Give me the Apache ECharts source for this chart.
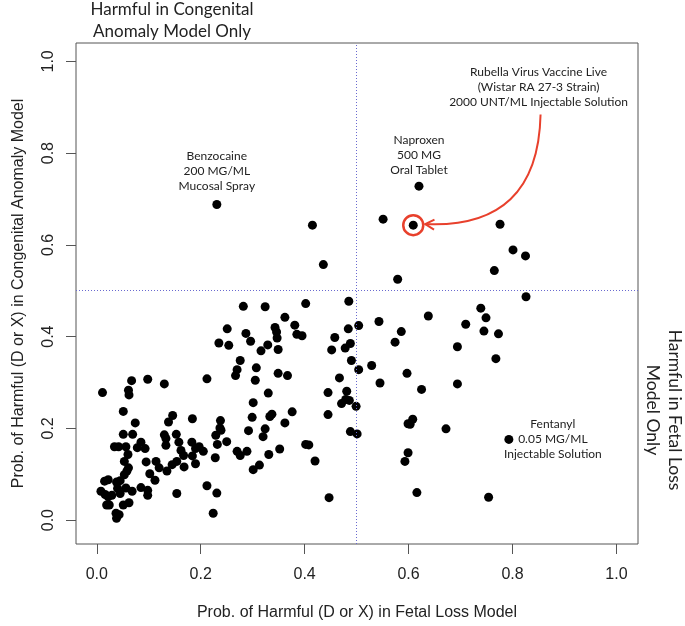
<!DOCTYPE html>
<html><head><meta charset="utf-8">
<script src="https://cdn.jsdelivr.net/npm/echarts@6/dist/echarts.min.js"></script>
<style>html,body{margin:0;padding:0;background:#fff}#c{width:685px;height:626px}</style>
</head><body><div id="c"></div>
<script>
// Prob. of Harmful (D or X) in Fetal Loss Model
const fetalLoss = [
0.011,0.067,0.061,0.062,0.098,0.130,0.212,0.051,0.074,0.146,0.138,0.184,0.051,0.069,0.130,0.133,0.133,0.153,0.085,0.078,
0.093,0.034,0.042,0.056,0.060,0.053,0.061,0.058,0.053,0.095,0.114,0.102,0.112,0.158,0.162,0.167,0.183,0.190,0.197,0.205,
0.184,0.190,0.168,0.154,0.145,0.135,0.120,0.015,0.022,0.038,0.045,0.040,0.056,0.045,0.068,0.008,0.016,0.022,0.029,0.019,
0.024,0.051,0.062,0.085,0.098,0.098,0.037,0.043,0.038,0.154,0.212,0.224,
0.282,0.324,0.402,0.485,0.362,0.251,0.287,0.296,0.235,0.254,0.343,0.346,0.347,0.381,0.385,0.395,0.316,0.329,0.349,0.276,
0.270,0.267,0.307,0.305,0.349,0.367,0.330,0.301,0.299,0.333,0.337,0.376,0.362,0.292,0.324,0.320,0.238,0.237,0.239,0.229,
0.232,0.250,0.228,0.270,0.276,0.289,0.301,0.313,0.331,0.352,0.402,0.408,0.420,0.231,0.447,0.445,0.445,0.458,0.452,0.478,
0.484,0.488,0.490,0.504,0.467,0.481,0.479,0.471,0.499,0.488,0.501,0.504,
0.579,0.765,0.739,0.749,0.745,0.773,0.768,0.638,0.710,0.543,0.586,0.574,0.694,0.694,0.529,0.597,0.545,0.625,0.486,0.608,
0.599,0.603,0.672,0.599,0.593,0.616,0.754,
0.776,0.801,0.825,0.826,0.793,
0.231,0.415,0.436,0.551,0.609,0.620
];
// Prob. of Harmful (D or X) in Congenital Anomaly Model
const congenital = [
0.278,0.304,0.283,0.273,0.307,0.297,0.308,0.237,0.212,0.228,0.214,0.221,0.187,0.187,0.186,0.178,0.163,0.187,0.170,0.158,
0.156,0.160,0.160,0.160,0.143,0.128,0.114,0.107,0.099,0.127,0.128,0.101,0.087,0.170,0.152,0.141,0.170,0.156,0.160,0.150,
0.140,0.123,0.116,0.128,0.121,0.107,0.114,0.085,0.088,0.083,0.086,0.069,0.070,0.058,0.063,0.063,0.056,0.051,0.054,0.033,
0.033,0.033,0.038,0.071,0.065,0.054,0.015,0.012,0.004,0.058,0.075,0.015,
0.466,0.465,0.472,0.477,0.442,0.417,0.407,0.390,0.386,0.381,0.420,0.410,0.397,0.425,0.405,0.402,0.369,0.382,0.372,0.348,
0.328,0.315,0.332,0.305,0.320,0.315,0.277,0.256,0.224,0.226,0.231,0.236,0.212,0.195,0.199,0.182,0.217,0.201,0.196,0.185,
0.165,0.171,0.136,0.150,0.141,0.150,0.110,0.120,0.143,0.155,0.165,0.164,0.129,0.059,0.049,0.278,0.230,0.398,0.371,0.375,
0.417,0.385,0.348,0.424,0.310,0.281,0.263,0.254,0.248,0.193,0.188,0.328,
0.525,0.544,0.462,0.441,0.412,0.406,0.352,0.445,0.427,0.433,0.411,0.388,0.378,0.297,0.337,0.320,0.299,0.285,0.261,0.220,
0.210,0.209,0.199,0.147,0.128,0.060,0.050,
0.645,0.589,0.576,0.487,0.176,
0.688,0.643,0.557,0.656,0.643,0.728
];
const xTicks = [0, 0.2, 0.4, 0.6, 0.8, 1.0];
const yTicks = [0, 0.2, 0.4, 0.6, 0.8, 1.0];
const threshold = 0.5;
const rubella = [0.609, 0.643];
const benzocaine = [0.231, 0.688];
const naproxen = [0.620, 0.728];
const fentanyl = [0.793, 0.176];
const arrowStart = [0.854, 0.884];
const arrowCtrl = [0.849, 0.634];

const xTitle = 'Prob. of Harmful (D or X) in Fetal Loss Model';
const yTitle = 'Prob. of Harmful (D or X) in Congenital Anomaly Model';
const topNote = 'Harmful in Congenital\nAnomaly Model Only';
const rightNote = 'Harmful in Fetal Loss\nModel Only';
const benzText = 'Benzocaine\n200 MG/ML\nMucosal Spray';
const naproxText = 'Naproxen\n500 MG\nOral Tablet';
const rubellaText = 'Rubella Virus Vaccine Live\n(Wistar RA 27-3 Strain)\n2000 UNT/ML Injectable Solution';
const fentText = 'Fentanyl\n0.05 MG/ML\nInjectable Solution';

const AX = 'Liberation Sans, Arial, sans-serif';
const NOTE = 'Lato, "Open Sans", sans-serif';
const RED = '#e8402c';

const chart = echarts.init(document.getElementById('c'), null, {renderer: 'canvas'});
chart.setOption({
  animation: false,
  backgroundColor: '#fff',
  grid: {left: 76, right: 47, top: 43, bottom: 80, show: true, borderColor: '#555', borderWidth: 1},
  xAxis: {
    type: 'value', min: -0.04, max: 1.0415,
    axisLine: {show: false, onZero: false},
    splitLine: {show: false},
    axisTick: {show: true, customValues: xTicks, length: 10, lineStyle: {color: '#555'}},
    axisLabel: {customValues: xTicks, formatter: v => v.toFixed(1), margin: 23, fontSize: 16, color: '#222', fontFamily: AX},
    name: xTitle, nameLocation: 'middle', nameGap: 61,
    nameTextStyle: {fontSize: 16, color: '#222', fontFamily: AX}
  },
  yAxis: {
    type: 'value', min: -0.052, max: 1.04,
    axisLine: {show: false, onZero: false},
    splitLine: {show: false},
    axisTick: {show: true, customValues: yTicks, length: 10, lineStyle: {color: '#555'}},
    axisLabel: {customValues: yTicks, formatter: v => v.toFixed(1), rotate: 90, margin: 19, fontSize: 16, color: '#222', fontFamily: AX},
    name: yTitle, nameLocation: 'middle', nameGap: 49,
    nameTextStyle: {fontSize: 16, color: '#222', fontFamily: AX}
  },
  series: [
    {
      type: 'scatter', symbol: 'circle', symbolSize: 9,
      itemStyle: {color: '#000', opacity: 1},
      data: fetalLoss.map((x, i) => [x, congenital[i]]),
      silent: true,
      markLine: {
        silent: true, symbol: ['none', 'none'], label: {show: false},
        lineStyle: {type: [1, 2], color: '#6a6ad0', width: 1, opacity: 1},
        data: [{xAxis: threshold}, {yAxis: threshold}]
      }
    },
    {
      type: 'scatter', symbol: 'circle', symbolSize: 20, silent: true,
      itemStyle: {color: 'rgba(0,0,0,0)', borderColor: RED, borderWidth: 2.5, opacity: 1},
      data: [rubella]
    }
  ]
});

function px(p) { return chart.convertToPixel({gridIndex: 0}, p); }
const pR = px(rubella), pB = px(benzocaine), pN = px(naproxen), pF = px(fentanyl);
const pS = px(arrowStart), pC = px(arrowCtrl);
const tip = [pR[0] + 12, pR[1] - 1];
const dx = tip[0] - pC[0], dy = tip[1] - pC[1];
const len = Math.hypot(dx, dy);
const ux = dx / len, uy = dy / len;
const wing = 9, half = 5;
const w1 = [tip[0] - wing * ux - half * uy, tip[1] - wing * uy + half * ux];
const w2 = [tip[0] - wing * ux + half * uy, tip[1] - wing * uy - half * ux];

function note(text, x, y, align, opts) {
  return Object.assign({
    type: 'text', x: x, y: y, silent: true,
    style: {text: text, fill: '#222', fontSize: 12, fontFamily: NOTE, lineHeight: 15,
            align: align || 'center', verticalAlign: 'middle'}
  }, opts || {});
}

chart.setOption({
  graphic: [
    {type: 'bezierCurve', silent: true,
     shape: {x1: pS[0], y1: pS[1], cpx1: pC[0], cpy1: pC[1], x2: tip[0], y2: tip[1]},
     style: {stroke: RED, lineWidth: 2, fill: null}},
    {type: 'polyline', silent: true,
     shape: {points: [w1, tip, w2]},
     style: {stroke: RED, lineWidth: 2, fill: null}},
    note(benzText, pB[0], pB[1] - 33),
    note(naproxText, pN[0], pN[1] - 31),
    note(rubellaText, pS[0] - 2, pS[1] - 27),
    note(fentText, pF[0] + 44, pF[1]),
    {type: 'text', x: 172, y: 21, silent: true,
     style: {text: topNote, fill: '#222', fontSize: 17, fontFamily: NOTE, lineHeight: 22, align: 'center', verticalAlign: 'middle'}},
    {type: 'text', x: 664, y: 410, rotation: -Math.PI / 2, silent: true,
     style: {text: rightNote, fill: '#222', fontSize: 17.5, fontFamily: NOTE, lineHeight: 22, align: 'center', verticalAlign: 'middle'}}
  ]
});
</script>
</body></html>
